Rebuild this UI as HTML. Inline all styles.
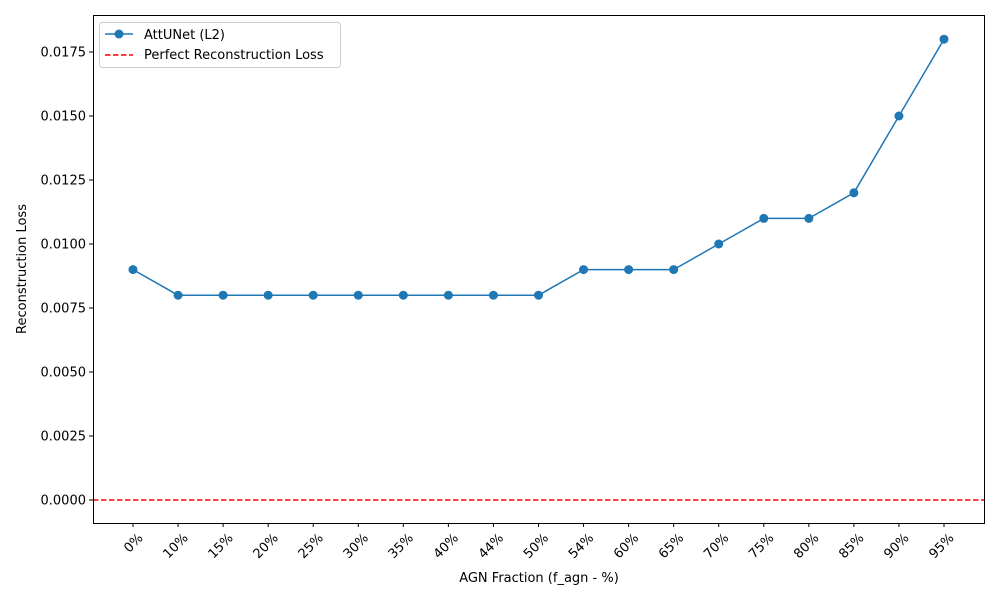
<!DOCTYPE html>
<html><head><meta charset="utf-8"><style>
body{margin:0;background:#fff;font-family:"Liberation Sans","DejaVu Sans",sans-serif}
svg text{font-family:"DejaVu Sans","Liberation Sans",sans-serif;font-size:13px;fill:#000}
</style></head><body>
<svg id="chart" width="1000" height="600" xmlns="http://www.w3.org/2000/svg">
<rect width="1000" height="600" fill="#fff"/>
<g id="grid"></g>
<g id="marks"></g>
<rect x="93.5" y="15.5" width="891" height="508" fill="none" stroke="#000" stroke-width="1"/>
<text x="539" y="582" text-anchor="middle">AGN Fraction (f_agn - %)</text>
<text transform="translate(26,269) rotate(-90)" text-anchor="middle">Reconstruction Loss</text>
<g>
<rect x="99.5" y="22.5" width="241" height="45" rx="3" fill="#fff" stroke="#ccc"/>
<line x1="105" y1="34" x2="133" y2="34" stroke="#1f77b4" stroke-width="1.5"/>
<circle cx="119" cy="34" r="4.5" fill="#1f77b4"/>
<text x="144" y="39">AttUNet (L2)</text>
<line x1="105" y1="55" x2="133" y2="55" stroke="red" stroke-width="1.5" stroke-dasharray="5.5,2.5"/>
<text x="144" y="59">Perfect Reconstruction Loss</text>
</g>
</svg>
<script>
const categories=["0%","10%","15%","20%","25%","30%","35%","40%","44%","50%","54%","60%","65%","70%","75%","80%","85%","90%","95%"];
const lossValues=[0.009,0.008,0.008,0.008,0.008,0.008,0.008,0.008,0.008,0.008,0.009,0.009,0.009,0.010,0.011,0.011,0.012,0.015,0.018];
const yTicks=[0,0.0025,0.005,0.0075,0.01,0.0125,0.015,0.0175];
const yTickLabels=["0.0000","0.0025","0.0050","0.0075","0.0100","0.0125","0.0150","0.0175"];
const perfectLoss=0;
const NS="http://www.w3.org/2000/svg";
const x=i=>133+i*(944-133)/(categories.length-1);
const y=v=>500-v*25600;
const g=document.getElementById('grid'),m=document.getElementById('marks');
function mk(tag,attrs,parent){const e=document.createElementNS(NS,tag);for(const k in attrs)e.setAttribute(k,attrs[k]);parent.appendChild(e);return e;}
yTicks.forEach((v,i)=>{
 const t=mk('line',{x1:89,x2:93,y1:y(v),y2:y(v),stroke:'#000'},g);
 
 
 const l=mk('text',{x:86,y:y(v)+4.5,'text-anchor':'end'},g);l.textContent=yTickLabels[i];
 
 
});
categories.forEach((c,i)=>{
 const t=mk('line',{x1:x(i),x2:x(i),y1:523,y2:527,stroke:'#000'},g);
 
 
 const l=mk('text',{transform:`translate(${x(i)+5},${533}) rotate(-45)`,'text-anchor':'end',x:0,y:8},g);l.textContent=c;
 
 
});
const ref=mk('line',{x1:93,x2:985,y1:y(perfectLoss),y2:y(perfectLoss),stroke:'red','stroke-width':1.5,'stroke-dasharray':'5.5,2.5'},m);


const pl=mk('polyline',{points:lossValues.map((v,i)=>x(i)+','+y(v)).join(' '),fill:'none',stroke:'#1f77b4','stroke-width':1.5},m);


lossValues.forEach((v,i)=>{
 const c=mk('circle',{cx:x(i),cy:y(v),r:4.5,fill:'#1f77b4'},m);
 
 
});
</script>
</body></html>
